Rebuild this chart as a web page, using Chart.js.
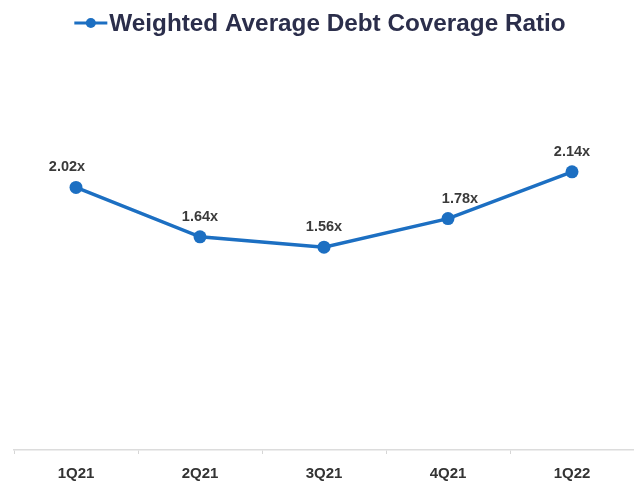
<!DOCTYPE html>
<html>
<head>
<meta charset="utf-8">
<script src="https://cdn.jsdelivr.net/npm/chart.js@4/dist/chart.umd.min.js"></script>
<style>
  html, body { margin: 0; padding: 0; background: #ffffff; }
  #wrap { width: 634px; height: 483px; }
</style>
</head>
<body>
<div id="wrap"><canvas id="c" width="634" height="483"></canvas></div>
<script>
// Quarterly weighted average debt coverage ratio
const quarters = ['1Q21', '2Q21', '3Q21', '4Q21', '1Q22'];
const coverageRatio = [2.02, 1.64, 1.56, 1.78, 2.14];
const seriesName = 'Weighted Average Debt Coverage Ratio';

const LINE_BLUE = '#1c6fc2';
const FONT = '"Liberation Sans", Arial, sans-serif';

// Series key at the top: short line with a dot, followed by the series name
const titleKey = {
  id: 'titleKey',
  afterDraw(chart) {
    const ctx = chart.ctx;
    ctx.save();
    ctx.font = 'bold 24.3px ' + FONT;
    const textW = ctx.measureText(seriesName).width;
    const markW = 33, gap = 2;
    const total = markW + gap + textW;
    const x0 = (chart.width - total) / 2 + 3;
    const cy = 23;
    ctx.strokeStyle = LINE_BLUE;
    ctx.lineWidth = 3;
    ctx.beginPath(); ctx.moveTo(x0, cy); ctx.lineTo(x0 + markW, cy); ctx.stroke();
    ctx.fillStyle = LINE_BLUE;
    ctx.beginPath(); ctx.arc(x0 + markW / 2, cy, 5, 0, Math.PI * 2); ctx.fill();
    ctx.fillStyle = '#2b2e4b';
    ctx.textAlign = 'left';
    ctx.textBaseline = 'middle';
    ctx.fillText(seriesName, x0 + markW + gap, cy + 1);
    ctx.restore();
  }
};

// Value labels above each point, e.g. "2.02x"
const labelShift = [-9, 0, 0, 12, 0];
const valueLabels = {
  id: 'valueLabels',
  afterDatasetsDraw(chart) {
    const ctx = chart.ctx;
    const meta = chart.getDatasetMeta(0);
    ctx.save();
    ctx.font = 'bold 14.5px ' + FONT;
    ctx.fillStyle = '#3a3a3a';
    ctx.textAlign = 'center';
    ctx.textBaseline = 'middle';
    meta.data.forEach((pt, i) => {
      ctx.fillText(coverageRatio[i].toFixed(2) + 'x', pt.x + labelShift[i], pt.y - 20);
    });
    ctx.restore();
  }
};

new Chart(document.getElementById('c'), {
  type: 'line',
  data: {
    labels: quarters,
    datasets: [{
      label: seriesName,
      data: coverageRatio,
      borderColor: LINE_BLUE,
      backgroundColor: LINE_BLUE,
      borderWidth: 3.5,
      pointRadius: 6.5,
      pointHoverRadius: 6.5,
      pointBackgroundColor: LINE_BLUE,
      pointBorderWidth: 0,
      tension: 0
    }]
  },
  options: {
    responsive: false,
    animation: false,
    devicePixelRatio: 1,
    layout: { autoPadding: false, padding: { left: 14, right: 0, top: 60, bottom: -11 } },
    plugins: {
      legend: { display: false },
      tooltip: { enabled: false }
    },
    scales: {
      x: {
        offset: true,
        grid: {
          offset: true,
          drawOnChartArea: false,
          drawTicks: true,
          tickLength: 4,
          color: '#d6d6d6'
        },
        border: { display: true, color: '#dcdcdc', width: 1.5 },
        ticks: {
          color: '#333333',
          font: { family: FONT, size: 15, weight: 'bold' },
          padding: 11
        }
      },
      y: {
        display: false,
        min: 0,
        max: 3
      }
    }
  },
  plugins: [valueLabels, titleKey]
});
</script>
</body>
</html>
